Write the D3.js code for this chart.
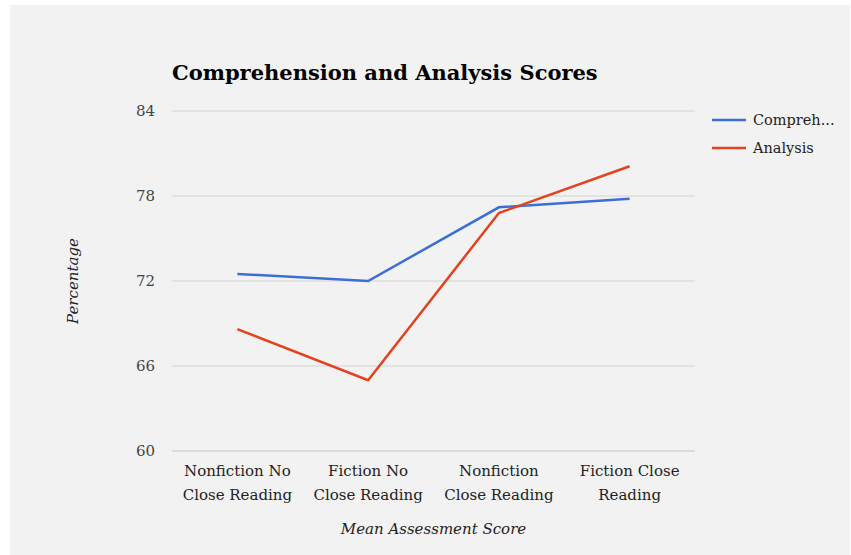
<!DOCTYPE html>
<html>
<head>
<meta charset="utf-8">
<script src="https://cdn.jsdelivr.net/npm/d3@7"></script>
<style>
  body { margin: 0; background: #fff; }
</style>
</head>
<body>
<div id="chart"></div>
<script>
// data
var categories = [
  ["Nonfiction No", "Close Reading"],
  ["Fiction No", "Close Reading"],
  ["Nonfiction", "Close Reading"],
  ["Fiction Close", "Reading"]
];
var seriesNames = ["Compreh...", "Analysis"];
var comprehension = [72.5, 72.0, 77.2, 77.8];
var analysis = [68.6, 65.0, 76.8, 80.1];
var yTicks = [60, 66, 72, 78, 84];
var colors = ["#3c6fd6", "#e2431e"];

var W = 851, H = 555;
var font = "'DejaVu Serif', 'Liberation Serif', serif";

var svg = d3.select("#chart").append("svg")
  .attr("width", W)
  .attr("height", H);

// grey card
svg.append("rect")
  .attr("x", 10).attr("y", 5)
  .attr("width", 840).attr("height", 550)
  .attr("fill", "#f2f2f2");

var plotLeft = 172, plotRight = 695, plotTop = 111, plotBottom = 451;

var x = d3.scalePoint()
  .domain(d3.range(categories.length))
  .range([plotLeft, plotRight])
  .padding(0.5);

var y = d3.scaleLinear()
  .domain([60, 84])
  .range([plotBottom, plotTop]);

// gridlines
svg.append("g")
  .selectAll("line")
  .data(yTicks)
  .enter().append("line")
  .attr("x1", plotLeft).attr("x2", plotRight)
  .attr("y1", function (d) { return y(d); })
  .attr("y2", function (d) { return y(d); })
  .attr("stroke", function (d) { return d === 60 ? "#c4c4c4" : "#d4d4d4"; })
  .attr("stroke-width", 1.2);

// y tick labels
svg.append("g")
  .selectAll("text")
  .data(yTicks)
  .enter().append("text")
  .attr("x", 155)
  .attr("y", function (d) { return y(d) + 5; })
  .attr("text-anchor", "end")
  .attr("font-family", font)
  .attr("font-size", 15)
  .attr("fill", "#444")
  .text(function (d) { return d; });

// x labels (two lines each)
var xl = svg.append("g")
  .selectAll("text")
  .data(categories)
  .enter().append("text")
  .attr("text-anchor", "middle")
  .attr("font-family", font)
  .attr("font-size", 15)
  .attr("fill", "#222");
xl.each(function (d, i) {
  var t = d3.select(this);
  d.forEach(function (line, j) {
    t.append("tspan")
      .attr("x", x(i))
      .attr("y", 476 + j * 24)
      .text(line);
  });
});

// axis titles
svg.append("text")
  .attr("x", (plotLeft + plotRight) / 2)
  .attr("y", 534)
  .attr("text-anchor", "middle")
  .attr("font-family", font)
  .attr("font-style", "italic")
  .attr("font-size", 15)
  .attr("fill", "#222")
  .text("Mean Assessment Score");

svg.append("text")
  .attr("transform", "translate(78," + y(72) + ") rotate(-90)")
  .attr("text-anchor", "middle")
  .attr("font-family", font)
  .attr("font-style", "italic")
  .attr("font-size", 15)
  .attr("fill", "#222")
  .text("Percentage");

// title
svg.append("text")
  .attr("x", plotLeft)
  .attr("y", 80)
  .attr("font-family", font)
  .attr("font-weight", "bold")
  .attr("font-size", 21)
  .attr("fill", "#000")
  .text("Comprehension and Analysis Scores");

// lines
var line = d3.line()
  .x(function (d, i) { return x(i); })
  .y(function (d) { return y(d); });

[comprehension, analysis].forEach(function (s, k) {
  svg.append("path")
    .datum(s)
    .attr("fill", "none")
    .attr("stroke", colors[k])
    .attr("stroke-width", 2.5)
    .attr("d", line);
});

// legend
var lg = svg.append("g")
  .selectAll("g")
  .data(seriesNames)
  .enter().append("g")
  .attr("transform", function (d, i) { return "translate(712," + (120 + i * 28) + ")"; });
lg.append("line")
  .attr("x1", 0).attr("x2", 34)
  .attr("y1", 0).attr("y2", 0)
  .attr("stroke", function (d, i) { return colors[i]; })
  .attr("stroke-width", 2.5);
lg.append("text")
  .attr("x", 41)
  .attr("y", 5)
  .attr("font-family", font)
  .attr("font-size", 14.5)
  .attr("fill", "#222")
  .text(function (d) { return d; });
</script>
</body>
</html>
